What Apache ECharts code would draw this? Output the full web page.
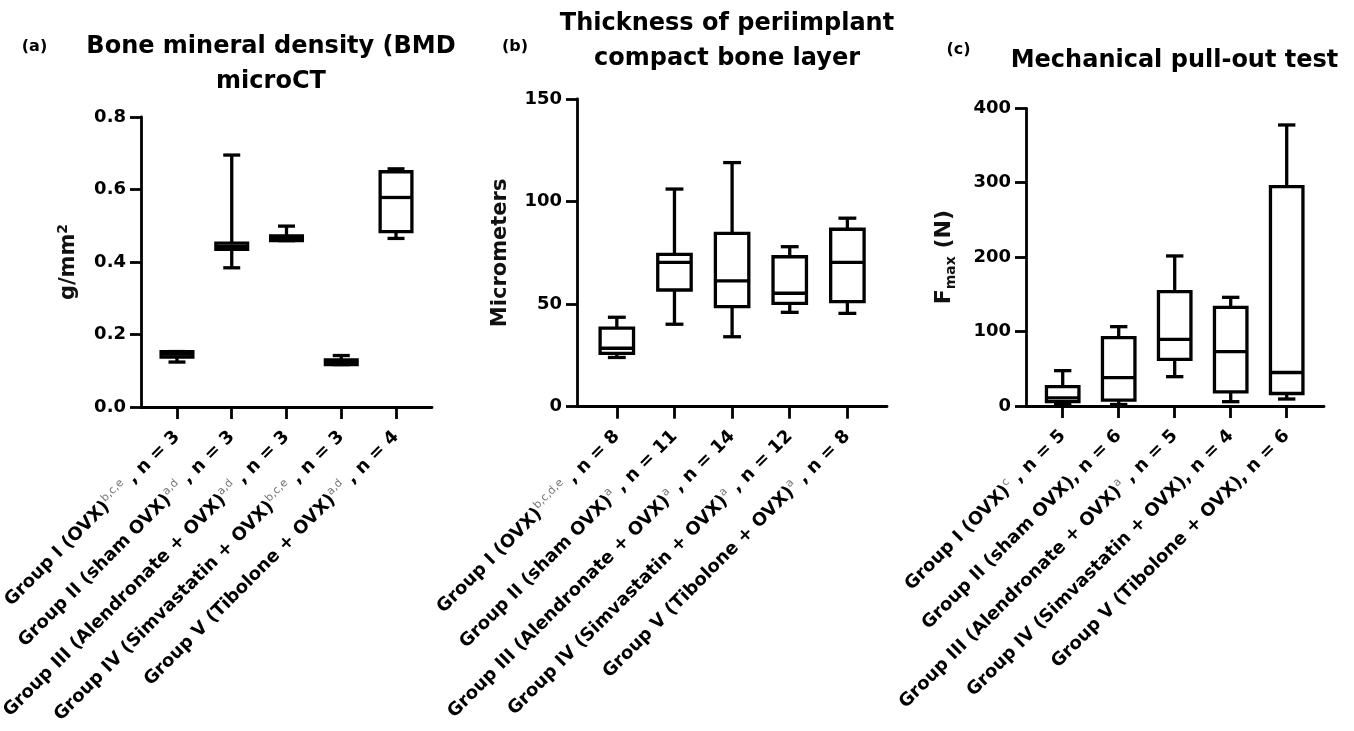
<!DOCTYPE html>
<html><head><meta charset="utf-8">
<script src="https://cdn.jsdelivr.net/npm/echarts@6/dist/echarts.min.js"></script>
<style>html,body{margin:0;padding:0;background:#fff}#c{width:1354px;height:731px}</style>
</head><body><div id="c"></div><script>
const FONT = 'DejaVu Sans';

// ---- data ----
const groupNames = ['Group I (OVX)', 'Group II (sham OVX)', 'Group III (Alendronate + OVX)', 'Group IV (Simvastatin + OVX)', 'Group V (Tibolone + OVX)'];

// Panel (a) BMD microCT  [min, Q1, median, Q3, max]
const bmdSup = ['b,c,e', 'a,d', 'a,d', 'b,c,e', 'a,d'];
const bmdN = [3, 3, 3, 3, 4];
const bmdValues = [
  [0.124, 0.138, 0.146, 0.153, 0.153],
  [0.384, 0.435, 0.443, 0.452, 0.695],
  [0.459, 0.459, 0.466, 0.472, 0.499],
  [0.117, 0.117, 0.125, 0.130, 0.142],
  [0.465, 0.484, 0.578, 0.649, 0.657]
];
const bmdTicks = {min: 0, max: 0.8, interval: 0.2};

// Panel (b) thickness of periimplant compact bone layer
const thkSup = ['b,c,d,e', 'a', 'a', 'a', 'a'];
const thkN = [8, 11, 14, 12, 8];
const thkValues = [
  [24, 26, 28.5, 38.3, 43.6],
  [40.2, 56.9, 70.4, 74.3, 106.1],
  [34.1, 48.8, 61.3, 84.5, 119],
  [46, 50.4, 55.3, 73.1, 78],
  [45.5, 51.2, 70.4, 86.5, 91.9]
];
const thkTicks = {min: 0, max: 150, interval: 50};

// Panel (c) mechanical pull-out test
const pullSup = ['c', '', 'a', '', ''];
const pullN = [5, 6, 5, 4, 6];
const pullValues = [
  [2, 6, 11, 26, 47.5],
  [2, 8, 38, 92, 106.6],
  [39.4, 62.7, 89.6, 153.6, 201.6],
  [5.8, 19, 73, 132.6, 146],
  [9.4, 16.8, 45, 294.7, 377.6]
];
const pullTicks = {min: 0, max: 400, interval: 100};

// ---- helpers ----
function cats(sup, n) {
  return groupNames.map((g, i) => sup[i]
    ? '{b|' + g + '}{s|' + sup[i] + '}{b| , n = ' + n[i] + '}'
    : '{b|' + g + ', n = ' + n[i] + '}');
}
const labelRich = {
  b: {fontSize: 18, fontWeight: 'bold', fontFamily: FONT, color: '#000', lineHeight: 22},
  s: {fontSize: 11, fontFamily: FONT, color: '#777', lineHeight: 11, verticalAlign: 'top'}
};
const AX = {color: '#000', width: 2.8};

function renderBox(params, api) {
  const i = api.value(0);
  const pMin = api.coord([i, api.value(1)]);
  const pQ1 = api.coord([i, api.value(2)]);
  const pMd = api.coord([i, api.value(3)]);
  const pQ3 = api.coord([i, api.value(4)]);
  const pMax = api.coord([i, api.value(5)]);
  const band = api.size([1, 0])[0];
  const cx = pMd[0], hw = band * 0.58 / 2, hc = band * 0.31 / 2;
  const lw = 3.3;
  const st = {stroke: '#000', lineWidth: lw, fill: null};
  return {type: 'group', children: [
    {type: 'line', shape: {x1: cx, y1: pQ3[1], x2: cx, y2: pMax[1]}, style: st},
    {type: 'line', shape: {x1: cx, y1: pQ1[1], x2: cx, y2: pMin[1]}, style: st},
    {type: 'line', shape: {x1: cx - hc, y1: pMax[1], x2: cx + hc, y2: pMax[1]}, style: st},
    {type: 'line', shape: {x1: cx - hc, y1: pMin[1], x2: cx + hc, y2: pMin[1]}, style: st},
    {type: 'rect', shape: {x: cx - hw, y: pQ3[1], width: 2 * hw, height: pQ1[1] - pQ3[1]}, style: {stroke: '#000', lineWidth: lw, fill: '#fff', lineJoin: 'miter'}},
    {type: 'line', shape: {x1: cx - hw, y1: pMd[1], x2: cx + hw, y2: pMd[1]}, style: st}
  ]};
}

const panels = [
  {A: {left: 141, top: 117, width: 291, height: 290}, B: {left: 149.6, width: 273.8},
   ticks: bmdTicks, fmt: v => v.toFixed(1), cats: cats(bmdSup, bmdN), values: bmdValues,
   name: '{t|g/mm}{p|2}', nameGap: 59},
  {A: {left: 577, top: 99, width: 310, height: 307.7}, B: {left: 588, width: 288.2},
   ticks: thkTicks, fmt: v => String(v), cats: cats(thkSup, thkN), values: thkValues,
   name: '{t|Micrometers}', nameGap: 63},
  {A: {left: 1026, top: 108.3, width: 298, height: 297.7}, B: {left: 1034.7, width: 280},
   ticks: pullTicks, fmt: v => String(v), cats: cats(pullSup, pullN), values: pullValues,
   name: '{f|F}{m|max}{f| (N)}', nameGap: 68}
];

const grid = [], xAxis = [], yAxis = [], series = [];
panels.forEach((p, k) => {
  const gA = Object.assign({outerBoundsMode: 'none'}, p.A);
  const gB = {outerBoundsMode: 'none', left: p.B.left, width: p.B.width, top: p.A.top, height: p.A.height};
  grid.push(gA, gB);
  const ia = 2 * k, ib = 2 * k + 1;
  xAxis.push({gridIndex: ia, type: 'value', min: 0, max: 1, axisLine: {show: true, lineStyle: AX},
    axisTick: {show: false}, axisLabel: {show: false}, splitLine: {show: false}});
  xAxis.push({gridIndex: ib, type: 'category', data: p.cats, boundaryGap: true,
    axisLine: {show: false}, axisTick: {show: true, alignWithLabel: true, length: 12, lineStyle: AX},
    axisLabel: {interval: 0, rotate: 45, margin: 27, rich: labelRich}, splitLine: {show: false}});
  yAxis.push({gridIndex: ia, type: 'value', min: p.ticks.min, max: p.ticks.max, interval: p.ticks.interval,
    axisLine: {show: true, lineStyle: AX}, axisTick: {show: true, length: 11, lineStyle: AX},
    axisLabel: {margin: 15, formatter: p.fmt, fontSize: 18, fontWeight: 'bold', fontFamily: FONT, color: '#000'},
    splitLine: {show: false},
    name: p.name, nameLocation: 'middle', nameGap: p.nameGap,
    nameTextStyle: {rich: {
      t: {fontSize: 21, fontFamily: FONT, fontWeight: 'bold', color: '#111', lineHeight: 26},
      f: {fontSize: 22, fontFamily: FONT, fontWeight: 'bold', color: '#111', lineHeight: 27},
      p: {fontSize: 14, fontFamily: FONT, fontWeight: 'bold', color: '#111', lineHeight: 14, verticalAlign: 'top'},
      m: {fontSize: 14, fontFamily: FONT, fontWeight: 'bold', color: '#111', lineHeight: 14, verticalAlign: 'bottom'}
    }}});
  yAxis.push({gridIndex: ib, type: 'value', min: p.ticks.min, max: p.ticks.max, show: false});
  series.push({type: 'custom', xAxisIndex: ib, yAxisIndex: ib, renderItem: renderBox, clip: false, silent: true,
    encode: {x: 0, y: [1, 2, 3, 4, 5]},
    data: p.values.map((v, i) => [i].concat(v))});
});

const titleFont = {fontSize: 24, fontWeight: 'bold', fontFamily: FONT, fill: '#000', lineHeight: 35, align: 'center', verticalAlign: 'top'};
const tagFont = {fontSize: 16, fontWeight: 'bold', fontFamily: FONT, fill: '#000', align: 'center', verticalAlign: 'middle'};
const graphic = [
  {type: 'text', x: 271, y: 29.5, style: Object.assign({text: 'Bone mineral density (BMD\nmicroCT'}, titleFont)},
  {type: 'text', x: 727, y: 6.5, style: Object.assign({text: 'Thickness of periimplant\ncompact bone layer'}, titleFont)},
  {type: 'text', x: 1174.5, y: 43, style: Object.assign({text: 'Mechanical pull-out test'}, titleFont)},
  {type: 'text', x: 34.5, y: 47, style: Object.assign({text: '(a)'}, tagFont)},
  {type: 'text', x: 515, y: 47, style: Object.assign({text: '(b)'}, tagFont)},
  {type: 'text', x: 958.5, y: 50, style: Object.assign({text: '(c)'}, tagFont)}
];

const chart = echarts.init(document.getElementById('c'));
chart.setOption({backgroundColor: '#fff', animation: false, grid, xAxis, yAxis, series, graphic});
</script></body></html>
